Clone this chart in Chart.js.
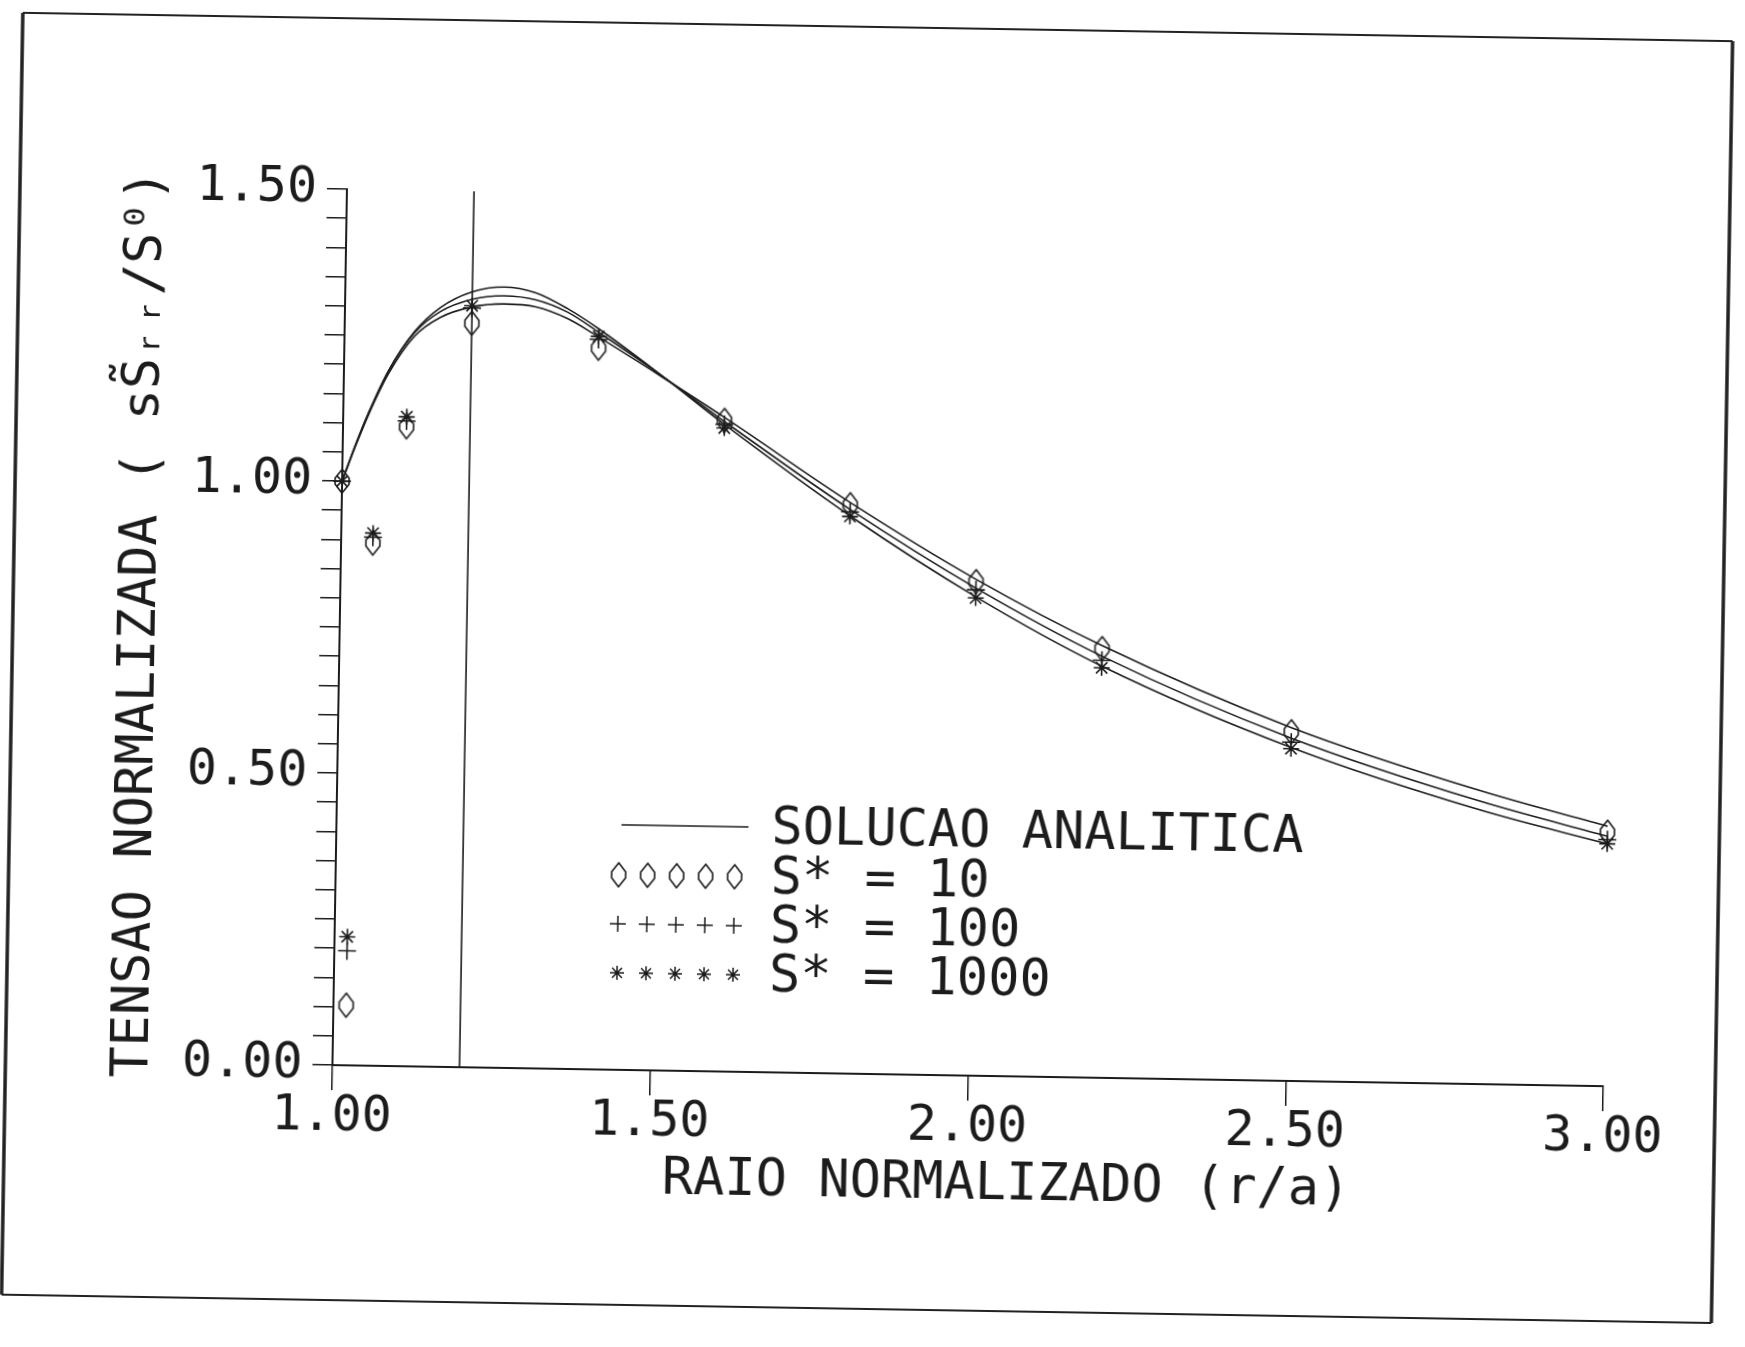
<!DOCTYPE html>
<html>
<head>
<meta charset="utf-8">
<script src="https://cdn.jsdelivr.net/npm/chart.js@4.4.1/dist/chart.umd.min.js"></script>
<style>
  html, body { margin: 0; padding: 0; background: #fff; width: 1745px; height: 1347px; overflow: hidden; }
  #wrap { position: absolute; left: 0; top: 0; width: 1745px; height: 1347px;
          transform: rotate(0.95deg); transform-origin: 872.5px 673.5px; }
  canvas { display: block; }
</style>
</head>
<body>
<div id="wrap"><canvas id="c" width="1745" height="1347"></canvas></div>
<script>
// ---------- data ----------
const xTitle = 'RAIO NORMALIZADO (r/a)';
const yTitle = 'TENSAO NORMALIZADA ( sS\u0303\u1D63\u1D63/S\u2070)';
const legendLabels = ['SOLUCAO ANALITICA', 'S* = 10', 'S* = 100', 'S* = 1000'];

// analytic solution curves (one per S*)
const curveX       = [1.00, 1.02, 1.04, 1.07, 1.11, 1.15, 1.20, 1.25, 1.30, 1.35, 1.40, 1.50, 1.60, 1.80, 2.00, 2.20, 2.50, 2.80, 3.00];
const analytic10   = [1.000, 1.060, 1.115, 1.185, 1.250, 1.283, 1.302, 1.308, 1.304, 1.285, 1.254, 1.188, 1.120, 0.978, 0.850, 0.740, 0.605, 0.502, 0.445];
const analytic100  = [1.000, 1.062, 1.118, 1.190, 1.256, 1.293, 1.315, 1.322, 1.316, 1.296, 1.262, 1.190, 1.113, 0.966, 0.835, 0.722, 0.587, 0.484, 0.428];
const analytic1000 = [1.000, 1.062, 1.118, 1.190, 1.258, 1.300, 1.328, 1.337, 1.328, 1.302, 1.268, 1.190, 1.108, 0.955, 0.820, 0.705, 0.571, 0.469, 0.415];

// numerical results (markers)
const markerX     = [1.00, 1.02, 1.05, 1.10, 1.20, 1.40, 1.60, 1.80, 2.00, 2.20, 2.50, 3.00];
const s10Values   = [1.000, 0.103, 0.895, 1.095, 1.274, 1.235, 1.115, 0.974, 0.846, 0.735, 0.598, 0.435];
const s100Values  = [1.000, 0.196, 0.905, 1.105, 1.300, 1.250, 1.108, 0.962, 0.832, 0.715, 0.580, 0.422];
const s1000Values = [1.000, 0.220, 0.912, 1.112, 1.304, 1.255, 1.102, 0.954, 0.818, 0.702, 0.569, 0.415];

// vertical reference line
const refLineX = [1.20, 1.20];
const refLineY = [0.00, 1.50];

// axes
const xMin = 1.0, xMax = 3.0, xStep = 0.5;
const yMin = 0.0, yMax = 1.5, yStep = 0.05, yLabelStep = 0.5;

// ---------- styling / helpers ----------
const INK = '#1c1c1c';
const FONT = '"DejaVu Sans Mono", "Liberation Mono", monospace';
Chart.defaults.font.family = FONT;
Chart.defaults.color = INK;

function pts(xs, ys) { return xs.map((x, i) => ({ x: x, y: ys[i] })); }

function makeDiamond(w, h, lw) {
  const c = document.createElement('canvas');
  c.width = w + 4; c.height = h + 4;
  const g = c.getContext('2d');
  const cx = c.width / 2, cy = c.height / 2;
  g.strokeStyle = INK; g.lineWidth = lw; g.lineJoin = 'round';
  g.beginPath();
  g.moveTo(cx, cy - h / 2);
  g.lineTo(cx + w / 2, cy - h / 8);
  g.lineTo(cx + w / 2, cy + h / 8);
  g.lineTo(cx, cy + h / 2);
  g.lineTo(cx - w / 2, cy + h / 8);
  g.lineTo(cx - w / 2, cy - h / 8);
  g.closePath();
  g.stroke();
  return c;
}
const diamondImg = makeDiamond(14, 24, 1.6);

const curveStyle = {
  showLine: true, pointRadius: 0, borderColor: INK, borderWidth: 1.6,
  cubicInterpolationMode: 'monotone', fill: false, clip: false
};
function markerStyle(style, r) {
  return { showLine: false, pointStyle: style, pointRadius: r, pointBorderColor: INK,
           pointBackgroundColor: 'rgba(0,0,0,0)', pointBorderWidth: 1.6, clip: false };
}

const datasets = [
  Object.assign({ label: legendLabels[0], data: pts(curveX, analytic10) }, curveStyle),
  Object.assign({ label: legendLabels[0] + ' ', data: pts(curveX, analytic100) }, curveStyle),
  Object.assign({ label: legendLabels[0] + '  ', data: pts(curveX, analytic1000) }, curveStyle),
  Object.assign({ label: 'ref', data: pts(refLineX, refLineY) }, curveStyle, { cubicInterpolationMode: 'default', tension: 0 }),
  Object.assign({ label: legendLabels[1], data: pts(markerX, s10Values) }, markerStyle(diamondImg, 9)),
  Object.assign({ label: legendLabels[2], data: pts(markerX, s100Values) }, markerStyle('cross', 9)),
  Object.assign({ label: legendLabels[3], data: pts(markerX, s1000Values) }, markerStyle('star', 8))
];

const legendRows = [829, 879, 928, 977];
const legendMarkerStyles = [diamondImg, 'cross', 'star'];
const legendMarkerRadius = [9, 8, 7];

const decorPlugin = {
  id: 'decor',
  afterDraw(chart) {
    const ctx = chart.ctx;
    const area = chart.chartArea;
    ctx.save();
    // x axis title (placed like the plotter output, right of centre)
    ctx.fillStyle = INK;
    ctx.font = '52px ' + FONT; ctx.textAlign = 'center'; ctx.textBaseline = 'middle';
    ctx.fillText(xTitle, (area.left + area.right) / 2 + 40, 1183);
    // in-plot legend
    ctx.strokeStyle = INK; ctx.lineWidth = 1.6;
    ctx.beginPath(); ctx.moveTo(624, legendRows[0]); ctx.lineTo(751, legendRows[0]); ctx.stroke();
    ctx.textAlign = 'left';
    legendLabels.forEach((t, i) => ctx.fillText(t, 774, legendRows[i] + 2));
    legendMarkerStyles.forEach((st, i) => {
      for (let k = 0; k < 5; k++) {
        ctx.strokeStyle = INK; ctx.lineWidth = 1.5;
        Chart.helpers.drawPoint(ctx, { pointStyle: st, radius: legendMarkerRadius[i], rotation: 0, borderWidth: 1.5 },
          622 + 29 * k, legendRows[i + 1]);
      }
    });
    // page frame of the scanned sheet
    ctx.strokeStyle = '#222';
    ctx.lineWidth = 2;
    ctx.beginPath(); ctx.moveTo(12, 27); ctx.lineTo(1722, 27); ctx.stroke();
    ctx.beginPath(); ctx.moveTo(12, 1309); ctx.lineTo(1722, 1309); ctx.stroke();
    ctx.lineWidth = 3.5;
    ctx.beginPath(); ctx.moveTo(12, 27); ctx.lineTo(12, 1309); ctx.stroke();
    ctx.beginPath(); ctx.moveTo(1722, 27); ctx.lineTo(1722, 1309); ctx.stroke();
    ctx.restore();
  }
};

new Chart(document.getElementById('c'), {
  type: 'scatter',
  data: { datasets: datasets },
  options: {
    responsive: false,
    animation: false,
    devicePixelRatio: 1,
    layout: { padding: { left: 109, top: 198, right: 135, bottom: 138 } },
    plugins: { legend: { display: false }, tooltip: { enabled: false } },
    scales: {
      x: {
        type: 'linear', min: xMin, max: xMax,
        afterFit(s) { s.height = 135; },
        ticks: { stepSize: xStep, autoSkip: false, maxRotation: 0, padding: -3,
                 font: { size: 50 }, color: INK, callback: v => Number(v).toFixed(2) },
        grid: { display: true, drawOnChartArea: false, drawTicks: true, tickLength: 25, color: INK, lineWidth: 1.5 },
        border: { display: true, color: INK, width: 2 },
        title: { display: false, text: xTitle }
      },
      y: {
        type: 'linear', min: yMin, max: yMax,
        afterFit(s) { s.width = 230; },
        ticks: { stepSize: yStep, autoSkip: false, padding: 10, font: { size: 50 }, color: INK,
                 callback: v => {
                   const q = v / yLabelStep;
                   return Math.abs(q - Math.round(q)) < 1e-6 ? Number(v).toFixed(2) : '';
                 } },
        grid: { display: true, drawOnChartArea: false, drawTicks: true, tickLength: 20, color: INK, lineWidth: 1.5 },
        border: { display: true, color: INK, width: 2 },
        title: { display: true, text: yTitle, font: { size: 52 }, color: INK, padding: 0 }
      }
    }
  },
  plugins: [decorPlugin]
});
</script>
</body>
</html>
